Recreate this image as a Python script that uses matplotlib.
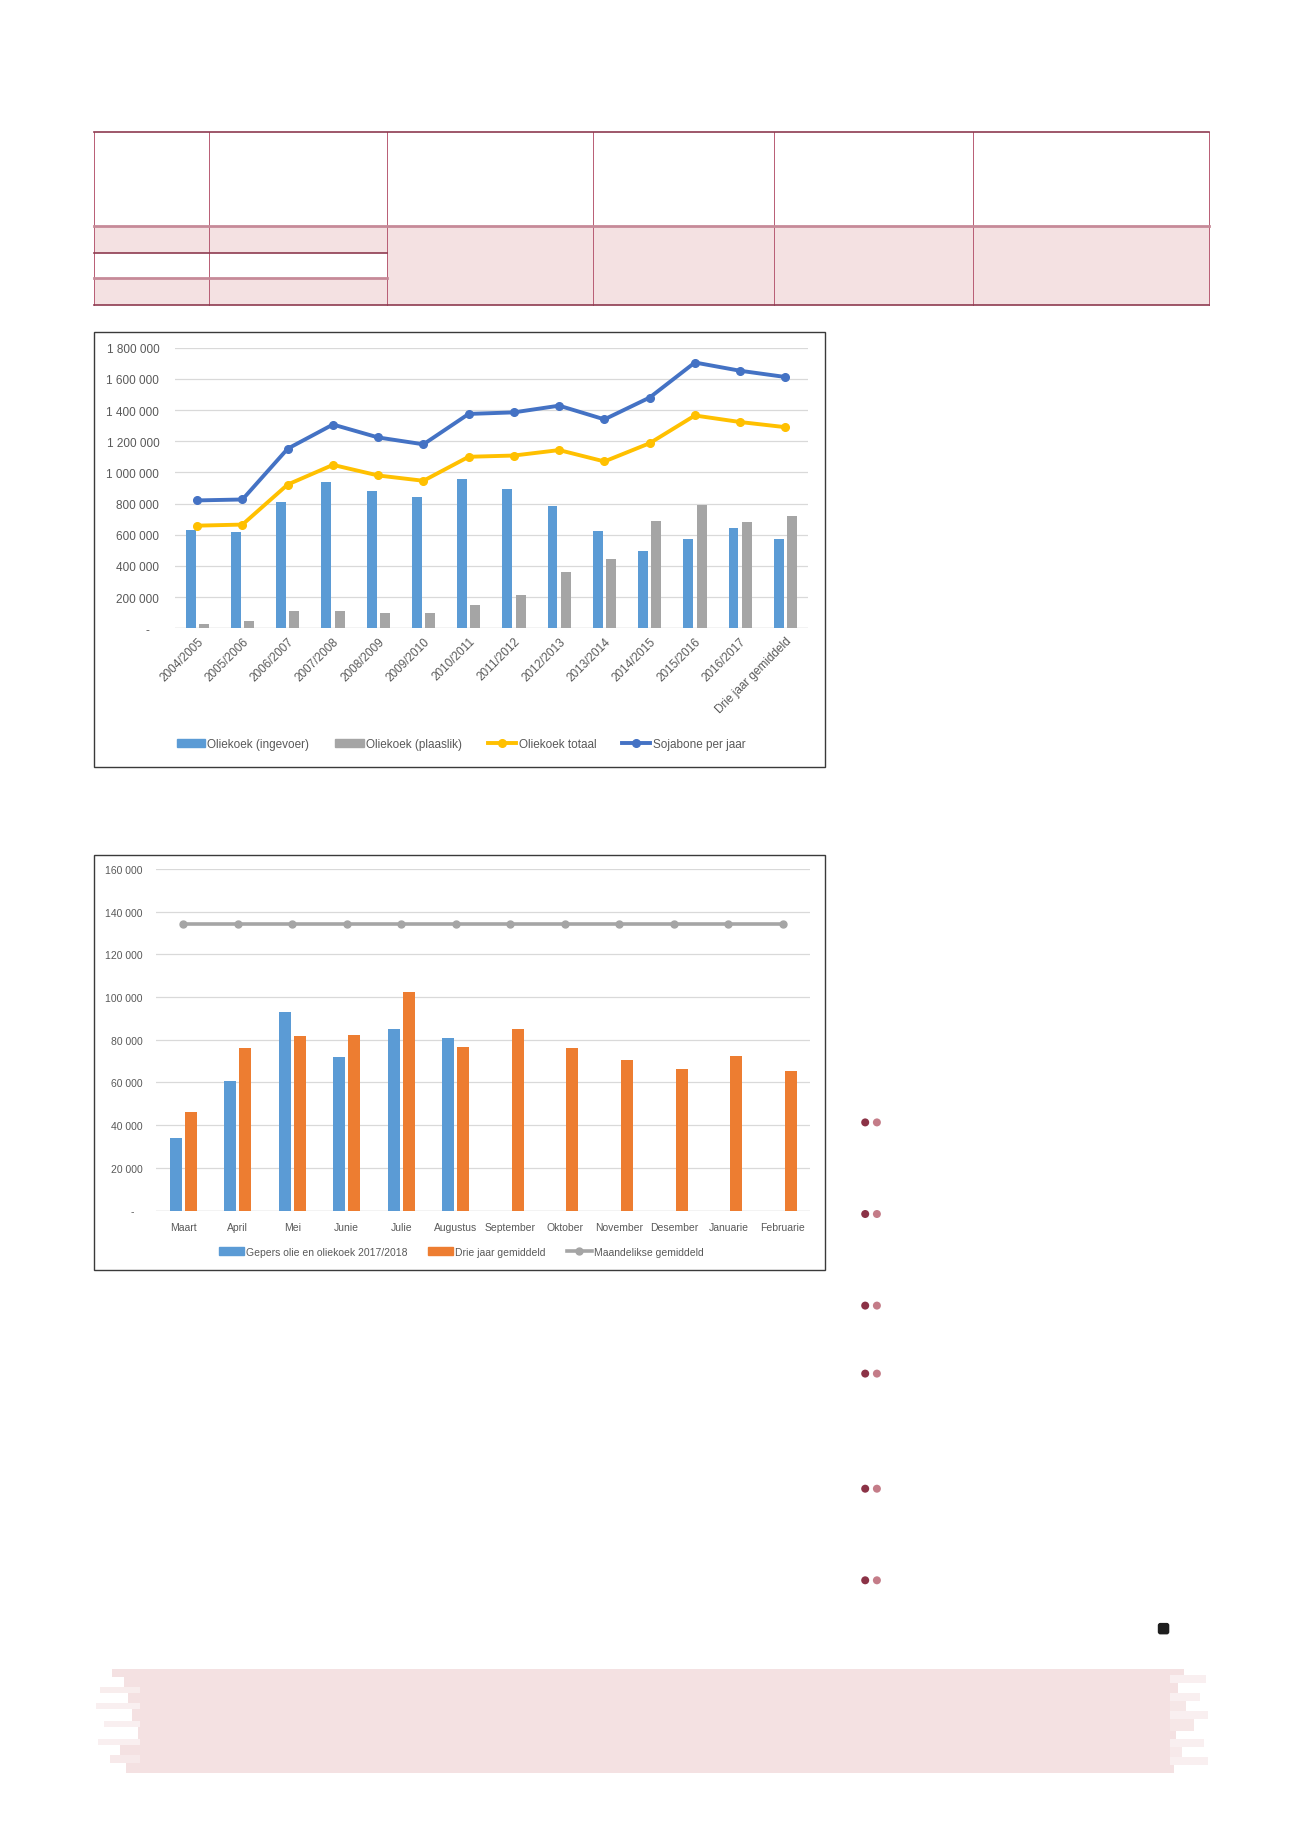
import numpy as np
import matplotlib.pyplot as plt
from matplotlib.patches import Rectangle, FancyBboxPatch, Circle
from matplotlib.lines import Line2D
from matplotlib.ticker import FuncFormatter

plt.rcParams['font.family'] = ['Liberation Sans Narrow', 'Liberation Sans', 'DejaVu Sans']

W, H = 1301, 1840

# Chart 1 data
seasons = ["2004/2005", "2005/2006", "2006/2007", "2007/2008", "2008/2009", "2009/2010",
           "2010/2011", "2011/2012", "2012/2013", "2013/2014", "2014/2015", "2015/2016",
           "2016/2017", "Drie jaar gemiddeld"]
ingevoer = [630000, 615000, 810000, 935000, 882000, 845000, 955000, 893000, 783000,
            622000, 497000, 573000, 643000, 571000]
plaaslik = [25000, 48000, 110000, 112000, 97000, 100000, 146000, 215000, 360000,
            446000, 688000, 790000, 680000, 720000]
totaal = [658000, 665000, 922000, 1048000, 980000, 946000, 1100000, 1108000, 1143000,
          1070000, 1187000, 1365000, 1323000, 1290000]
sojabone = [820000, 826000, 1152000, 1307000, 1224000, 1180000, 1375000, 1385000,
            1428000, 1340000, 1480000, 1705000, 1652000, 1612000]

# Chart 2 data
months = ["Maart", "April", "Mei", "Junie", "Julie", "Augustus", "September", "Oktober",
          "November", "Desember", "Januarie", "Februarie"]
gepers = [34000, 60500, 93000, 72000, 85000, 81000]
drie_jaar = [46000, 76000, 81500, 82000, 102500, 76500, 85000, 76000, 70500, 66500,
             72500, 65500]
maand_gem = [134000] * 12

BLUE = "#5B9BD5"
GRAY = "#A5A5A5"
YELLOW = "#FFC000"
DBLUE = "#4472C4"
ORANGE = "#ED7D31"
GRID = "#D9D9D9"
TXT = "#595959"
LINE = "#8E3B50"
PINK = "#F4E1E2"


def rect(x0, y0, x1, y1):
    # pixel box (top-left origin) -> figure fraction
    return [x0 / W, 1 - y1 / H, (x1 - x0) / W, (y1 - y0) / H]


def fmt(v, pos):
    if abs(v) < 1:
        return "-   "
    return f"{int(v):,}".replace(",", " ")


fig = plt.figure(figsize=(W / 100, H / 100), dpi=100)
bg = fig.add_axes([0, 0, 1, 1])
bg.set_xlim(0, W)
bg.set_ylim(H, 0)
bg.axis("off")

# table skeleton
cols = [93.9, 209.0, 387.4, 592.8, 773.6, 973.2, 1209.1]
y_top, y_head, y_r1, y_r2, y_bot = 132.7, 226.6, 253.6, 279.4, 306.4
bg.add_patch(Rectangle((cols[0], y_head), cols[-1] - cols[0], y_bot - y_head, color=PINK, lw=0))
bg.add_patch(Rectangle((cols[0], y_r1), cols[2] - cols[0], y_r2 - y_r1, color="white", lw=0))
for x in cols:
    bg.plot([x, x], [y_top, y_bot], color="#B85C74", lw=0.7)
bg.plot([cols[0], cols[-1]], [y_top, y_top], color=LINE, lw=1.2)
bg.plot([cols[0], cols[-1]], [y_head, y_head], color="#C68A98", lw=2.0)
bg.plot([cols[0], cols[2]], [y_r1, y_r1], color=LINE, lw=1.2)
bg.plot([cols[0], cols[2]], [y_r2, y_r2], color="#C68A98", lw=2.0)
bg.plot([cols[0], cols[-1]], [y_bot, y_bot], color=LINE, lw=1.2)

# chart frames
for y0, y1 in [(333.4, 767.7), (855.8, 1271.3)]:
    bg.add_patch(Rectangle((93.9, y0), 825.3 - 93.9, y1 - y0, fill=False, ec="#3A3A3A", lw=1.0))

# bullet dots
for yb in [1123.4, 1215.0, 1306.6, 1374.6, 1489.7, 1581.3]:
    bg.add_patch(Circle((865.2, yb), 4.0, color="#8B3246", lw=0))
    bg.add_patch(Circle((876.9, yb), 4.0, color="#C47C88", lw=0))

# end mark
bg.add_patch(FancyBboxPatch((1157.8, 1623.9), 11.5, 11.5, boxstyle="round,pad=0,rounding_size=2.5",
                            color="#1E1E1E", lw=0))

# pink brush band
band_top, band_bot = 1670, 1774
bg.add_patch(Rectangle((140, band_top), 1170 - 140, band_bot - band_top, color=PINK, lw=0))
# left brush edge: (y0, y1, x_start, alpha)
left_edge = [(1670, 1678, 112, 1.0), (1678, 1688, 124, 1.0), (1688, 1694, 100, 0.6),
             (1694, 1704, 128, 1.0), (1704, 1710, 96, 0.5), (1710, 1722, 132, 1.0),
             (1722, 1728, 104, 0.5), (1728, 1740, 138, 1.0), (1740, 1746, 98, 0.5),
             (1746, 1756, 120, 1.0), (1756, 1764, 110, 0.7), (1764, 1774, 126, 1.0)]
for y0, y1, x0, a in left_edge:
    bg.add_patch(Rectangle((x0, y0), 141 - x0, y1 - y0, color=PINK, alpha=a, lw=0))
# right brush edge: (y0, y1, x_end, alpha)
right_edge = [(1670, 1676, 1184, 1.0), (1676, 1684, 1206, 0.5), (1684, 1694, 1178, 1.0),
              (1694, 1702, 1200, 0.5), (1702, 1712, 1186, 0.8), (1712, 1720, 1208, 0.5),
              (1720, 1732, 1194, 0.8), (1732, 1740, 1176, 1.0), (1740, 1748, 1204, 0.5),
              (1748, 1758, 1182, 0.7), (1758, 1766, 1208, 0.5), (1766, 1774, 1174, 1.0)]
for y0, y1, x1, a in right_edge:
    bg.add_patch(Rectangle((1169, y0), x1 - 1169, y1 - y0, color=PINK, alpha=a, lw=0))

# ---- Chart 1 ----
ax1 = fig.add_axes(rect(174.6, 348.7, 808.0, 629.2))
x = np.arange(len(seasons))
bw = 0.22
ax1.bar(x - 0.147, ingevoer, bw, color=BLUE, zorder=2)
ax1.bar(x + 0.147, plaaslik, bw, color=GRAY, zorder=2)
ax1.plot(x, totaal, color=YELLOW, lw=2.8, marker="o", ms=5.5, zorder=3)
ax1.plot(x, sojabone, color=DBLUE, lw=2.8, marker="o", ms=5.5, zorder=4)
ax1.set_xlim(-0.5, len(seasons) - 0.5)
ax1.set_ylim(0, 1800000)
ax1.set_yticks(np.arange(0, 1800001, 200000))
ax1.yaxis.set_major_formatter(FuncFormatter(fmt))
ax1.grid(axis="y", color=GRID, lw=0.9, zorder=0)
ax1.set_axisbelow(True)
for s in ax1.spines.values():
    s.set_visible(False)
ax1.axhline(0, color=GRID, lw=1.0, zorder=1)
ax1.set_xticks(x)
ax1.set_xticklabels(seasons, rotation=45, ha="right", rotation_mode="anchor")
ax1.tick_params(length=0, labelsize=8.5, labelcolor=TXT, pad=5)
ax1.tick_params(axis="y", pad=11)
ax1.set_facecolor("none")

h1 = [Rectangle((0, 0), 1, 1, color=BLUE), Rectangle((0, 0), 1, 1, color=GRAY),
      Line2D([], [], color=YELLOW, lw=2.8, marker="o", ms=5.5),
      Line2D([], [], color=DBLUE, lw=2.8, marker="o", ms=5.5)]
fig.legend(h1, ["Oliekoek (ingevoer)", "Oliekoek (plaaslik)", "Oliekoek totaal", "Sojabone per jaar"],
           loc="center", bbox_to_anchor=(461 / W, 1 - 745.4 / H), ncol=4, frameon=False,
           fontsize=8.5, labelcolor=TXT, handlelength=2.4, handleheight=0.7,
           handletextpad=0.2, columnspacing=2.2)

# ---- Chart 2 ----
ax2 = fig.add_axes(rect(155.9, 869.9, 810.2, 1211.5))
m = np.arange(len(months))
ax2.bar(m[:len(gepers)] - 0.14, gepers, 0.22, color=BLUE, zorder=2)
ax2.bar(m + 0.14, drie_jaar, 0.22, color=ORANGE, zorder=2)
ax2.plot(m, maand_gem, color=GRAY, lw=2.6, marker="o", ms=5, zorder=3)
ax2.set_xlim(-0.5, len(months) - 0.5)
ax2.set_ylim(0, 160000)
ax2.set_yticks(np.arange(0, 160001, 20000))
ax2.yaxis.set_major_formatter(FuncFormatter(fmt))
ax2.grid(axis="y", color=GRID, lw=0.9, zorder=0)
ax2.set_axisbelow(True)
for s in ax2.spines.values():
    s.set_visible(False)
ax2.axhline(0, color=GRID, lw=1.0, zorder=1)
ax2.set_xticks(m)
ax2.set_xticklabels(months)
ax2.tick_params(length=0, labelsize=7.5, labelcolor=TXT, pad=8)
ax2.tick_params(axis="y", pad=9.5)
ax2.set_facecolor("none")

h2 = [Rectangle((0, 0), 1, 1, color=BLUE), Rectangle((0, 0), 1, 1, color=ORANGE),
      Line2D([], [], color=GRAY, lw=2.6, marker="o", ms=5)]
fig.legend(h2, ["Gepers olie en oliekoek 2017/2018", "Drie jaar gemiddeld", "Maandelikse gemiddeld"],
           loc="center", bbox_to_anchor=(461 / W, 1 - 1252.6 / H), ncol=3, frameon=False,
           fontsize=7.5, labelcolor=TXT, handlelength=2.4, handleheight=0.7,
           handletextpad=0.2, columnspacing=2.0)

fig.savefig("out.png", dpi=100, facecolor="white")
